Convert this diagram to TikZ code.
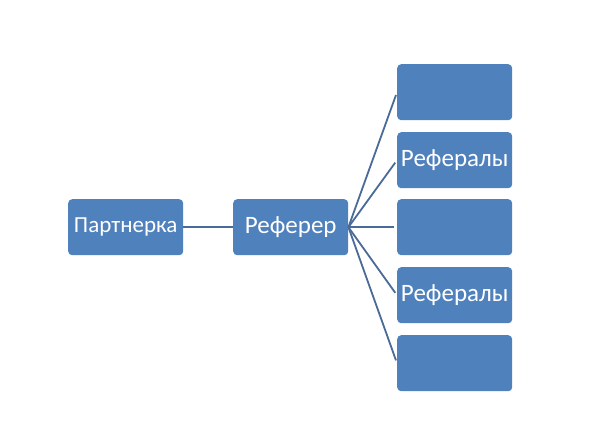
\documentclass[tikz,border=0pt]{standalone}
\usepackage{fontspec}
\setmainfont{Carlito}
\definecolor{boxblue}{HTML}{4F81BD}
\definecolor{linkblue}{HTML}{4A6A98}
\begin{document}
\begin{tikzpicture}[x=1pt,y=-1pt,
  box/.style={draw=none, fill=boxblue, rounded corners=4pt, minimum width=115pt, minimum height=56pt, inner sep=0pt, text=white, anchor=north west},
  big/.style={font=\fontsize{25}{28}\selectfont},
  link/.style={draw=linkblue, line width=1.8pt}]
\useasboundingbox[fill=white] (0,0) rectangle (600,445);
\node[box, font=\fontsize{23}{26}\selectfont] (p) at (68,199) {Партнерка};
\node[box, big] (r) at (233,199) {Реферер};
\node[box] (b1) at (397,64) {};
\node[box, big] (b2) at (397,132) {Рефералы};
\node[box] (b3) at (397,199) {};
\node[box, big] (b4) at (397,267) {Рефералы};
\node[box] (b5) at (397,335) {};
\draw[link] (p.east) -- (r.west);
\foreach \b in {b1,b2,b3,b4,b5}
  \draw[link, shorten >=3pt] (r.east) -- (\b.west);
\end{tikzpicture}
\end{document}
